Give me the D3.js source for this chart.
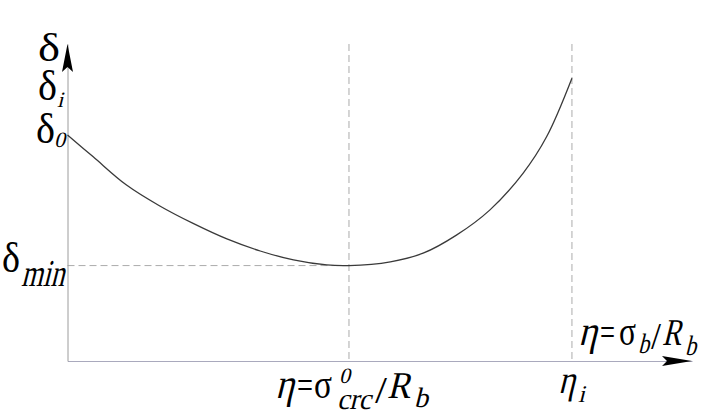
<!DOCTYPE html>
<html>
<head>
<meta charset="utf-8">
<script src="https://cdn.jsdelivr.net/npm/d3@7"></script>
</head>
<body style="margin:0">
<svg id="chart" width="722" height="417"></svg>
<script>
// ---- data (relative units) ----
const etaValues   = [0, 0.051, 0.117, 0.183, 0.249, 0.316, 0.382, 0.448, 0.514, 0.558, 0.640, 0.705, 0.771, 0.837, 0.903, 0.950, 1.0];
const deltaValues = [71.3, 64.4, 55.5, 48.9, 43.4, 38.5, 34.7, 31.9, 30.3, 30.1, 31.3, 34.0, 39.7, 47.6, 59.2, 70.8, 89.2];
const etaMarks    = [0.558, 1.0];          // η = σ⁰crc/Rb , ηi
const deltaMin    = 30.1;
const xDomain     = [0, 1.238];
const yDomain     = [0, 100];

const FONT = "Liberation Serif";

const svg = d3.select("#chart");
const x = d3.scaleLinear().domain(xDomain).range([67.5, 692]);
const y = d3.scaleLinear().domain(yDomain).range([361, 44]);

const dashColor = "#ababab";

// dashed guides
svg.selectAll("line.vguide").data(etaMarks).enter().append("line")
  .attr("class", "vguide")
  .attr("x1", d => x(d)).attr("x2", d => x(d))
  .attr("y1", y(yDomain[1])).attr("y2", y(0))
  .attr("stroke", dashColor).attr("stroke-width", 1)
  .attr("stroke-dasharray", "7,4");

svg.append("line")
  .attr("x1", x(0)).attr("x2", x(etaMarks[0]))
  .attr("y1", y(deltaMin)).attr("y2", y(deltaMin))
  .attr("stroke", dashColor).attr("stroke-width", 1)
  .attr("stroke-dasharray", "7,4");

// axes (domain lines only)
const gx = svg.append("g").attr("transform", `translate(0,${y(0)})`)
  .call(d3.axisBottom(x).tickValues([]).tickSizeOuter(0));
gx.select(".domain").attr("stroke", "#a9a9bd").attr("stroke-width", 1);

const gy = svg.append("g").attr("transform", `translate(${x(0)},0)`)
  .call(d3.axisLeft(y).tickValues([]).tickSizeOuter(0));
gy.select(".domain").attr("stroke", "#9c9c9c").attr("stroke-width", 1);

// arrowheads
const yTipX = x(0), yTipY = y(yDomain[1]);
svg.append("path")
  .attr("d", `M${yTipX},${yTipY} L${yTipX + 5.5},${yTipY + 28} L${yTipX},${yTipY + 23} L${yTipX - 5.5},${yTipY + 28} Z`)
  .attr("fill", "#000");
const xTipX = x(xDomain[1]), xTipY = y(0);
svg.append("path")
  .attr("d", `M${xTipX},${xTipY} L${xTipX - 30},${xTipY - 5} L${xTipX - 25},${xTipY} L${xTipX - 30},${xTipY + 5} Z`)
  .attr("fill", "#000");

// curve
const pts = etaValues.map((e, i) => [e, deltaValues[i]]);
svg.append("path")
  .datum(pts)
  .attr("d", d3.line().x(d => x(d[0])).y(d => y(d[1])).curve(d3.curveCatmullRom.alpha(0.5)))
  .attr("fill", "none").attr("stroke", "#3a3a3a").attr("stroke-width", 1.3);

// labels: separate text pieces; italics are synthesized by skewing the upright serif face
function piece(t, px, py, size, italic, len) {
  const el = svg.append("text")
    .style("font-family", FONT).style("font-size", size + "px")
    .style("font-style", "normal").attr("fill", "#000").text(t);
  if (italic) {
    el.attr("x", 0).attr("y", 0).attr("transform", `translate(${px},${py}) skewX(-14)`);
  } else {
    el.attr("x", px).attr("y", py);
  }
  if (len) el.attr("textLength", len).attr("lengthAdjust", "spacingAndGlyphs");
  return el;
}
// y-axis labels
piece("δ", 38, 61, 40, false, 22);
piece("δ", 38, 100, 42, false, 19);
piece("i", 57, 107, 22, true);
piece("δ", 36, 143, 42, false, 19);
piece("0", 54, 147, 22, true);
piece("δ", 2, 272, 42, false, 18);
piece("min", 21, 286, 38, true, 43);

// x-axis labels (below)
const xc = x(etaMarks[0]);
piece("η", xc - 74, 398, 42, true, 19);
piece("=", xc - 52, 398, 38, false, 16);
piece("σ", xc - 35, 398, 40, false, 18);
piece("0", xc - 10, 383, 22, true);
piece("crc", xc - 12, 409, 30, true, 34);
piece("/", xc + 26, 403, 38, false, 12);
piece("R", xc + 38, 398, 38, true, 23);
piece("b", xc + 65, 407, 28, true, 14);

const xi = x(etaMarks[1]);
piece("η", xi - 14, 393, 40, true, 17);
piece("i", xi + 6, 402, 24, true);

// axis title (right)
piece("η", 578, 345, 42, true, 19);
piece("=", 600, 345, 38, false, 15);
piece("σ", 619, 345, 40, false, 17);
piece("b", 638, 353, 28, true, 11);
piece("/", 651, 349, 38, false, 10);
piece("R", 662, 345, 38, true, 19);
piece("b", 685, 355, 28, true, 11);
</script>
</body>
</html>
